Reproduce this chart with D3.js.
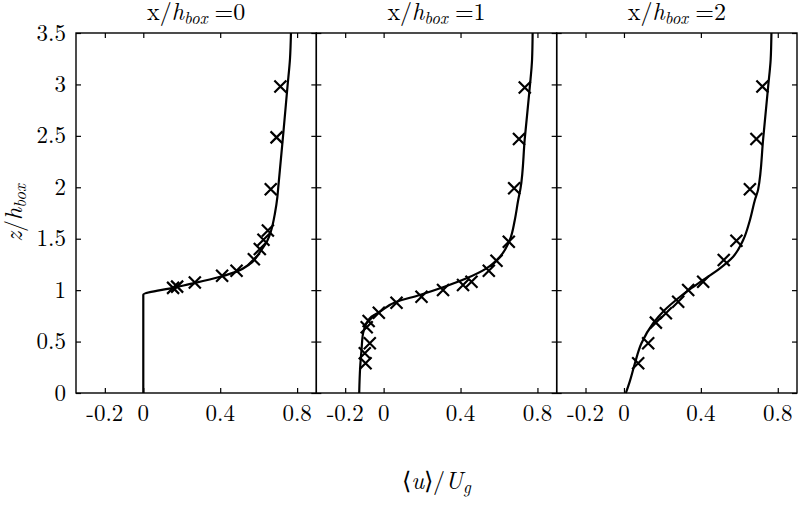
<!DOCTYPE html>
<html><head><meta charset="utf-8">
<script src="https://cdn.jsdelivr.net/npm/d3@7"></script>
<style>body{margin:0;background:#fff}svg{display:block}</style>
</head><body>
<svg id="c" width="798" height="515"></svg>
<script>
// ---- data ----
const panelTitles = ["0", "1", "2"];
const xTicks = [-0.2, 0, 0.4, 0.8];
const xTickLabels = ["-0.2", "0", "0.4", "0.8"];
const yTicks = [0, 0.5, 1, 1.5, 2, 2.5, 3, 3.5];
const yTickLabels = ["0", "0.5", "1", "1.5", "2", "2.5", "3", "3.5"];

// LES profiles
const les0_u = [0, 0, 0, 0.16, 0.27, 0.40, 0.485, 0.555, 0.61, 0.645, 0.665, 0.685, 0.697, 0.702, 0.727, 0.75, 0.763, 0.768];
const les0_z = [0, 0.5, 0.955, 1.025, 1.07, 1.13, 1.18, 1.255, 1.38, 1.48, 1.58, 1.75, 1.9, 2.0, 2.5, 2.98, 3.25, 3.5];
const les1_u = [-0.127, -0.122, -0.115, -0.107, -0.089, -0.063, -0.02, 0.067, 0.188, 0.309, 0.431, 0.535, 0.605, 0.656, 0.682, 0.70, 0.712, 0.734, 0.76, 0.772, 0.775];
const les1_z = [0, 0.25, 0.42, 0.58, 0.678, 0.742, 0.79, 0.888, 0.953, 1.028, 1.115, 1.212, 1.325, 1.487, 1.68, 1.876, 1.99, 2.47, 2.97, 3.24, 3.5];
const les2_u = [0.01, 0.03, 0.057, 0.091, 0.152, 0.212, 0.282, 0.342, 0.412, 0.499, 0.568, 0.62, 0.655, 0.681, 0.698, 0.724, 0.75, 0.763, 0.767];
const les2_z = [0, 0.11, 0.289, 0.483, 0.678, 0.807, 0.921, 1.008, 1.099, 1.212, 1.325, 1.487, 1.68, 1.876, 1.98, 2.47, 2.98, 3.24, 3.5];

// experiment (crosses)
const exp0_u = [0.155, 0.176, 0.268, 0.41, 0.485, 0.575, 0.606, 0.625, 0.648, 0.663, 0.693, 0.713];
const exp0_z = [1.022, 1.034, 1.074, 1.14, 1.188, 1.30, 1.40, 1.49, 1.58, 1.98, 2.485, 2.98];
const exp1_u = [-0.094, -0.098, -0.072, -0.088, -0.078, -0.025, 0.067, 0.197, 0.309, 0.413, 0.457, 0.547, 0.587, 0.651, 0.679, 0.704, 0.734];
const exp1_z = [0.289, 0.386, 0.483, 0.64, 0.70, 0.781, 0.878, 0.936, 1.001, 1.05, 1.082, 1.189, 1.286, 1.471, 1.99, 2.47, 2.97];
const exp2_u = [0.074, 0.126, 0.166, 0.218, 0.282, 0.334, 0.412, 0.519, 0.585, 0.655, 0.689, 0.72];
const exp2_z = [0.289, 0.483, 0.684, 0.775, 0.888, 1.001, 1.082, 1.293, 1.481, 1.98, 2.47, 2.98];

const lesU = [les0_u, les1_u, les2_u], lesZ = [les0_z, les1_z, les2_z];
const expU = [exp0_u, exp1_u, exp2_u], expZ = [exp0_z, exp1_z, exp2_z];

// ---- layout ----
const FONT = '"Latin Modern Roman", "Liberation Serif", serif';
const svg = d3.select("#c");
const L = 76, R = 797, T = 33, B = 393;
const pw = (R - L) / 3;
const y = d3.scaleLinear().domain([0, 3.5]).range([B, T]);
const tickLen = 5;
const FS = 23;

function txt(sel) { return sel.append("text").style("font-family", FONT).attr("fill", "#000"); }

for (let p = 0; p < 3; p++) {
  const x0 = L + p * pw, x1 = x0 + pw;
  const x = d3.scaleLinear().domain([-0.35, 0.9]).range([x0, x1]);
  const g = svg.append("g");
  const tk = s => { s.select(".domain").remove(); s.selectAll("line").attr("stroke-width", 1.2); s.selectAll("text").remove(); };

  g.append("g").attr("transform", `translate(0,${B})`)
    .call(d3.axisBottom(x).tickValues(xTicks).tickSizeInner(-tickLen).tickSizeOuter(0)).call(tk);
  g.append("g").attr("transform", `translate(0,${T})`)
    .call(d3.axisTop(x).tickValues(xTicks).tickSizeInner(-tickLen).tickSizeOuter(0)).call(tk);
  g.append("g").attr("transform", `translate(${x0},0)`)
    .call(d3.axisLeft(y).tickValues(yTicks).tickSizeInner(-tickLen).tickSizeOuter(0)).call(tk);
  g.append("g").attr("transform", `translate(${x1},0)`)
    .call(d3.axisRight(y).tickValues(yTicks).tickSizeInner(-tickLen).tickSizeOuter(0)).call(tk);

  // x tick labels
  xTicks.forEach((d, i) => {
    txt(g).attr("x", x(d)).attr("y", 421).attr("text-anchor", "middle")
      .attr("font-size", FS).text(xTickLabels[i]);
  });

  // box
  g.append("rect").attr("x", x0).attr("y", T).attr("width", pw).attr("height", B - T)
    .attr("fill", "none").attr("stroke", "#000").attr("stroke-width", 1.4);

  // LES line
  const pts = lesU[p].map((u, i) => [u, lesZ[p][i]]);
  g.append("path").datum(pts)
    .attr("d", d3.line().x(d => x(d[0])).y(d => y(d[1])).curve(d3.curveMonotoneY))
    .attr("fill", "none").attr("stroke", "#000").attr("stroke-width", 2.2);

  // crosses
  const ex = expU[p].map((u, i) => [u, expZ[p][i]]);
  g.selectAll("path.cr").data(ex).join("path").attr("class", "cr")
    .attr("transform", d => `translate(${x(d[0])},${y(d[1])})`)
    .attr("d", "M-6,-6L6,6M-6,6L6,-6")
    .attr("stroke", "#000").attr("stroke-width", 2.2).attr("fill", "none");

  // title
  const t = txt(svg).attr("x", x0 + pw / 2).attr("y", 20)
    .attr("text-anchor", "middle").attr("font-size", 24);
  t.append("tspan").text("x/");
  t.append("tspan").attr("font-style", "italic").text("h");
  t.append("tspan").attr("font-style", "italic").attr("font-size", 17).attr("dy", 4).text("box");
  t.append("tspan").attr("dy", -4).attr("dx", 7).text("=" + panelTitles[p]);
}

// y tick labels
yTicks.forEach((d, i) => {
  txt(svg).attr("x", 66).attr("y", y(d)).attr("dy", "0.33em").attr("text-anchor", "end")
    .attr("font-size", FS).text(yTickLabels[i]);
});

// y label
const yl = txt(svg).attr("transform", `translate(22,${(T + B) / 2}) rotate(-90)`)
  .attr("text-anchor", "middle").attr("font-size", 24);
yl.append("tspan").attr("font-style", "italic").text("z");
yl.append("tspan").text("/");
yl.append("tspan").attr("font-style", "italic").text("h");
yl.append("tspan").attr("font-style", "italic").attr("font-size", 17).attr("dy", 4).text("box");

// x label
const xl = txt(svg).attr("x", (L + R) / 2).attr("y", 489)
  .attr("text-anchor", "middle").attr("font-size", 24);
xl.append("tspan").text("\u27E8");
xl.append("tspan").attr("font-style", "italic").text("u");
xl.append("tspan").text("\u27E9/");
xl.append("tspan").attr("font-style", "italic").text("U");
xl.append("tspan").attr("font-style", "italic").attr("font-size", 17).attr("dy", 4).text("g");
</script>
</body></html>
